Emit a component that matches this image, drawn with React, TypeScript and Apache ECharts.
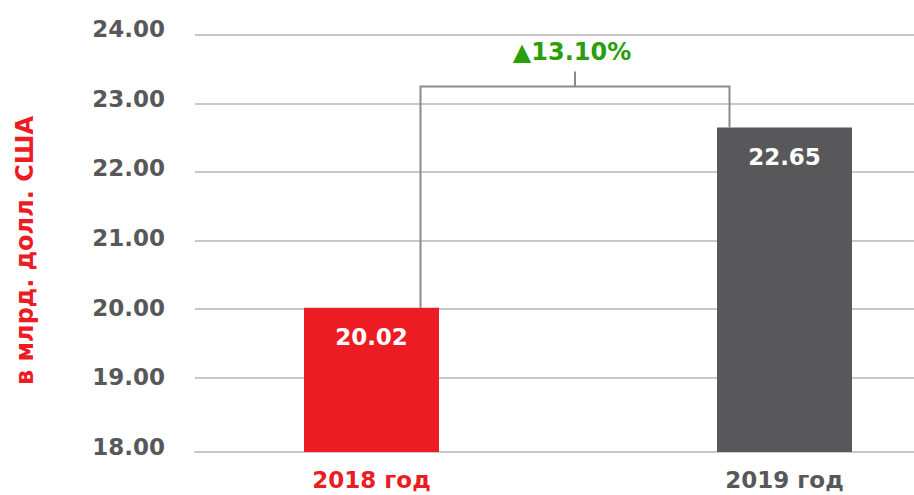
import React, { useEffect, useRef } from "react";
import * as echarts from "echarts";

const categories = ["2018 год", "2019 год"];
const values = [20.02, 22.65];
const barColors = ["#ED1C24", "#58585A"];
const labelColors = ["#ED1C24", "#58585A"];
const yMin = 18;
const yMax = 24;
const yInterval = 1;
const yAxisName = "в млрд. долл. США";
const changeLabel = "▲13.10%";
const bracketLevel = 23.25;

const FONT = "DejaVu Sans";
const GRAY = "#58585A";

export default function App() {
  const ref = useRef<HTMLDivElement>(null);
  useEffect(() => {
    document.body.style.margin = "0";
    document.body.style.overflow = "hidden";
    if (!ref.current) return;
    const chart = echarts.init(ref.current, undefined, { renderer: "svg" });
    const top = 35;
    const tickHeight = 411;
    const barHeight = 417;
    const barMin = yMax - (barHeight * (yMax - yMin)) / tickHeight;

    const option: any = {
      animation: false,
      backgroundColor: "#ffffff",
      grid: [
        { left: 195, right: 0, top, height: tickHeight, outerBoundsMode: "none" },
        { left: 195, right: 0, top, height: barHeight, outerBoundsMode: "none" },
        { left: 165, width: 826, top, height: barHeight, outerBoundsMode: "none", containLabel: false },
        { left: 195, right: 0, top: 29, height: 418, outerBoundsMode: "none" },
      ],
      xAxis: [
        { gridIndex: 0, type: "category", data: categories, show: false },
        {
          gridIndex: 1,
          type: "category",
          data: categories,
          axisLine: { show: true, lineStyle: { color: "#c8c8c8", width: 2 } },
          axisTick: { show: false },
          axisLabel: { show: false },
        },
        {
          gridIndex: 2,
          type: "category",
          data: categories,
          axisLine: { show: false },
          axisTick: { show: false },
          axisLabel: {
            margin: 16,
            fontFamily: FONT,
            fontWeight: "bold",
            fontSize: 23,
            color: (_v: string, i: number) => labelColors[i],
          },
        },
        { gridIndex: 3, type: "category", data: categories, show: false },
      ],
      yAxis: [
        {
          gridIndex: 0,
          type: "value",
          min: yMin,
          max: yMax,
          interval: yInterval,
          name: yAxisName,
          nameLocation: "middle",
          nameRotate: 90,
          nameGap: 158,
          nameTextStyle: {
            color: "#ED1C24",
            fontFamily: FONT,
            fontWeight: "bold",
            fontSize: 24,
            padding: [0, 20, 0, 0],
          },
          axisLine: { show: false },
          axisTick: { show: false },
          axisLabel: { show: false },
          splitLine: {
            show: true,
            lineStyle: {
              width: 2,
              color: ["rgba(0,0,0,0)", "#c8c8c8", "#c8c8c8", "#c8c8c8", "#c8c8c8", "#c8c8c8", "#c8c8c8"],
            },
          },
        },
        { gridIndex: 1, type: "value", min: barMin, max: yMax, show: false },
        { gridIndex: 2, type: "value", min: barMin, max: yMax, show: false },
        {
          gridIndex: 3,
          type: "value",
          min: yMin,
          max: yMax,
          interval: yInterval,
          axisLine: { show: false },
          axisTick: { show: false },
          splitLine: { show: false },
          axisLabel: {
            margin: 30,
            fontFamily: FONT,
            fontWeight: "bold",
            fontSize: 23,
            color: GRAY,
            formatter: (v: number) => v.toFixed(2),
          },
        },
      ],
      series: [
        {
          type: "bar",
          xAxisIndex: 2,
          yAxisIndex: 2,
          barWidth: 135,
          data: values.map((v, i) => ({ value: v, itemStyle: { color: barColors[i] } })),
          label: {
            show: true,
            position: "insideTop",
            distance: 18,
            color: "#ffffff",
            fontFamily: FONT,
            fontWeight: "bold",
            fontSize: 23,
            formatter: (p: any) => Number(p.value).toFixed(2),
          },
          z: 3,
        },
        {
          type: "custom",
          xAxisIndex: 2,
          yAxisIndex: 2,
          clip: false,
          z: 4,
          data: [[0, values[0], values[1]]],
          renderItem: (_params: any, api: any) => {
            const p1 = api.coord([0, values[0]]);
            const p2 = api.coord([1, values[1]]);
            const ty = api.coord([0, bracketLevel])[1];
            const x1 = p1[0] + 49;
            const x2 = p2[0] - 55;
            const mid = (x1 + x2) / 2;
            return {
              type: "group",
              children: [
                {
                  type: "polyline",
                  shape: { points: [[x1, p1[1]], [x1, ty], [x2, ty], [x2, p2[1]]] },
                  style: { stroke: "#8a8a8a", lineWidth: 2, fill: "none" },
                },
                {
                  type: "line",
                  shape: { x1: mid, y1: ty, x2: mid, y2: ty - 15 },
                  style: { stroke: "#8a8a8a", lineWidth: 2 },
                },
                {
                  type: "text",
                  x: mid - 3,
                  y: ty - 34,
                  style: {
                    text: changeLabel,
                    fill: "#2A9E0C",
                    font: `bold 24px "${FONT}"`,
                    align: "center",
                    verticalAlign: "middle",
                  },
                },
              ],
            };
          },
        },
      ],
    };
    chart.setOption(option);
    return () => chart.dispose();
  }, []);
  return <div ref={ref} style={{ width: 914, height: 495 }} />;
}
